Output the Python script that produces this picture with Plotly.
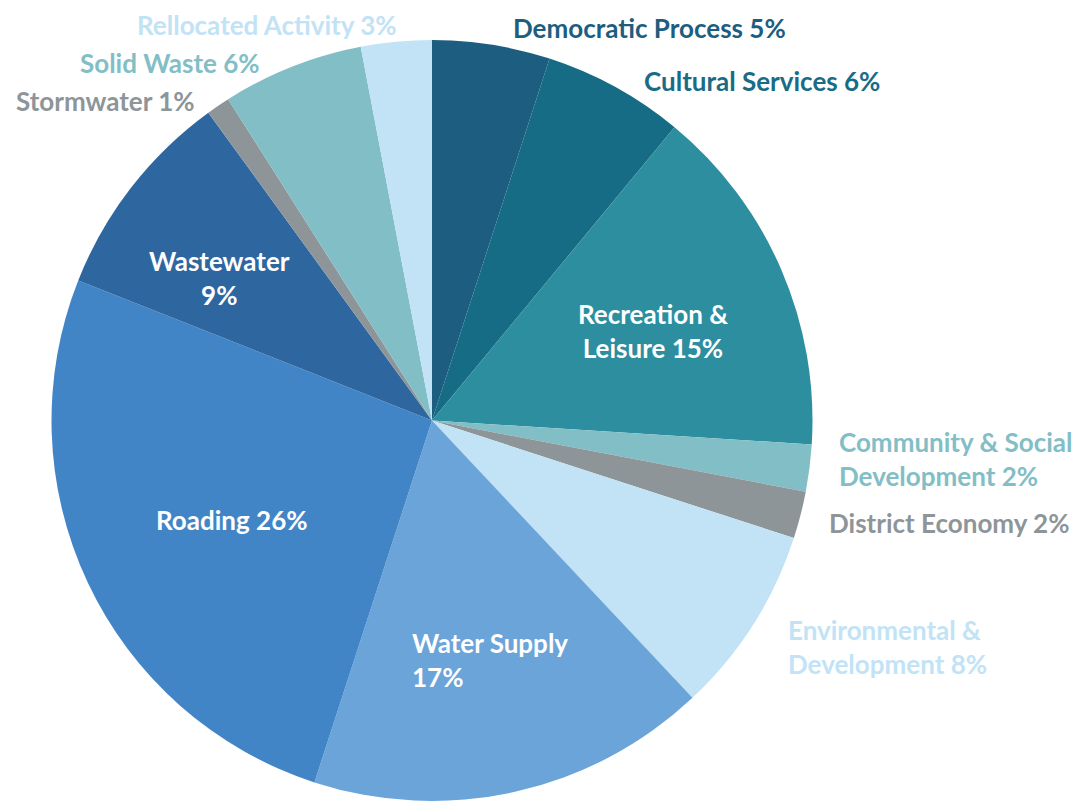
import plotly.graph_objects as go

categories = ["Democratic Process", "Cultural Services", "Recreation & Leisure",
              "Community & Social Development", "District Economy",
              "Environmental & Development", "Water Supply", "Roading",
              "Wastewater", "Stormwater", "Solid Waste", "Rellocated Activity"]
values = [5, 6, 15, 2, 2, 8, 17, 26, 9, 1, 6, 3]
colors = ["#1D5E80", "#166B85", "#2C8E9E", "#82BEC6", "#8E9599", "#C1E3F5",
          "#6AA4D8", "#4285C7", "#2E67A0", "#8E9599", "#82BEC6", "#C1E3F5"]
label_texts = ["Democratic Process 5%", "Cultural Services 6%", "Recreation &<br>Leisure 15%",
               "Community & Social<br>Development 2%", "District Economy 2%",
               "Environmental &<br>Development 8%", "Water Supply<br>17%", "Roading 26%",
               "Wastewater<br>9%", "Stormwater 1%", "Solid Waste 6%", "Rellocated Activity 3%"]
label_colors = ["#1D5E80", "#1A6B85", "white", "#82BEC6", "#8E9599", "#C1E3F5",
                "white", "white", "white", "#8E9599", "#82BEC6", "#C1E3F5"]
# label anchor (page pixel) positions and alignment
label_pos = [(649, 28, "center"), (762, 81, "center"), (653, 331, "center"),
             (838, 459, "left"), (828, 523, "left"), (787, 647, "left"),
             (411, 660, "left"), (232, 520, "center"), (220, 278, "center"),
             (105, 101, "center"), (170, 63, "center"), (267, 25, "center")]

OFF = 8  # page body margin
W, H = 1086 - OFF, 802 - OFF
FONT = "Lato, 'Open Sans', sans-serif"


def px_x(p):
    return (p - OFF) / W


def px_y(p):
    return 1 - (p - OFF) / H


fig = go.Figure(go.Pie(
    labels=categories, values=values, sort=False, direction="clockwise", rotation=0,
    marker=dict(colors=colors, line=dict(width=0)),
    textinfo="none", hoverinfo="label+percent", showlegend=False,
    domain=dict(x=[px_x(51), px_x(813)], y=[px_y(801), px_y(40)]),
))

for txt, col, (px, py, al) in zip(label_texts, label_colors, label_pos):
    fig.add_annotation(
        x=px_x(px), y=px_y(py), xref="paper", yref="paper",
        text=f"<b>{txt}</b>", showarrow=False, align=al,
        xanchor=al, yanchor="middle", borderpad=0,
        font=dict(family=FONT, size=26, color=col),
    )

fig.update_layout(
    width=W, height=H, margin=dict(l=0, r=0, t=0, b=0),
    paper_bgcolor="white", plot_bgcolor="white",
)
fig.write_html("out.html")
